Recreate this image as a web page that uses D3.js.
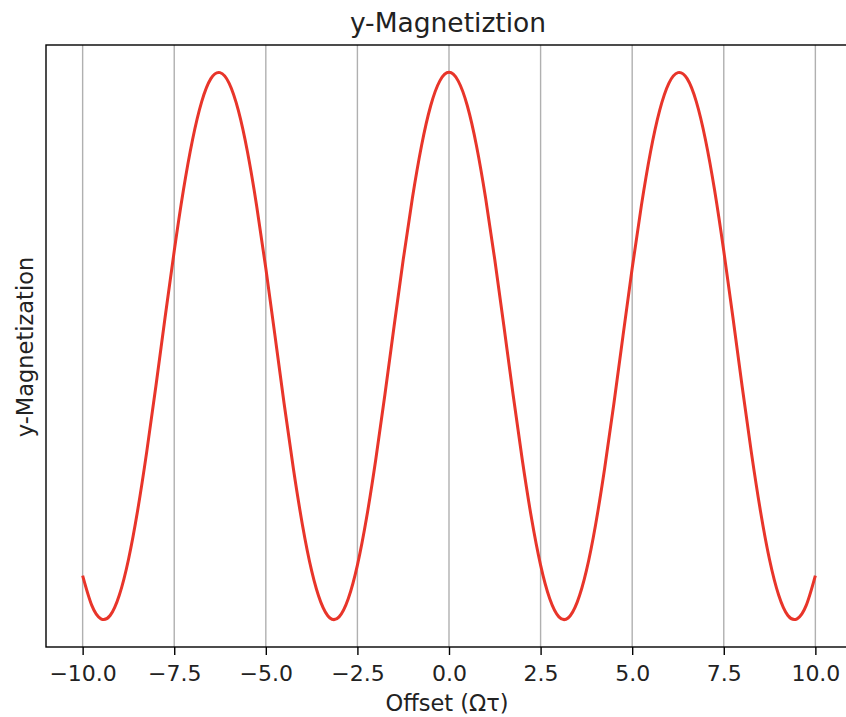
<!DOCTYPE html>
<html>
<head>
<meta charset="utf-8">
<script src="https://cdn.jsdelivr.net/npm/d3@7"></script>
<style>
  body { margin: 0; background: #fff; }
  svg { display: block; font-family: "DejaVu Sans", sans-serif; }
</style>
</head>
<body>
<script>
// offsets from -10 to 10 in steps of 0.25
var offsets = d3.range(-40, 41).map(function(i){ return i / 4; });
// y-magnetization
var magY = [
  -0.839, -0.948, -0.997, -0.985, -0.911, -0.781, -0.602, -0.386, -0.146, 0.104,
   0.347,  0.569,  0.754,  0.893,  0.977,  0.999,  0.960,  0.861,  0.709, 0.512,
   0.284,  0.038, -0.211, -0.446, -0.654, -0.821, -0.936, -0.994, -0.990, -0.924,
  -0.801, -0.628, -0.416, -0.178,  0.071,  0.315,  0.540,  0.732,  0.878, 0.969,
   1.000,
   0.969,  0.878,  0.732,  0.540,  0.315,  0.071, -0.178, -0.416, -0.628, -0.801,
  -0.924, -0.990, -0.994, -0.936, -0.821, -0.654, -0.446, -0.211,  0.038, 0.284,
   0.512,  0.709,  0.861,  0.960,  0.999,  0.977,  0.893,  0.754,  0.569, 0.347,
   0.104, -0.146, -0.386, -0.602, -0.781, -0.911, -0.985, -0.997, -0.948, -0.839
];
var xTicks = [-10, -7.5, -5, -2.5, 0, 2.5, 5, 7.5, 10];

var W = 846, H = 717;
var margin = {top: 45, left: 46, bottom: 70, right: -6};
var width = W - margin.left - margin.right,
    height = H - margin.top - margin.bottom;

var x = d3.scaleLinear().domain([-11, 11]).range([0, width]);
var y = d3.scaleLinear().domain([-1.1, 1.1]).range([height, 0]);

var svg = d3.select("body").append("svg")
  .attr("width", W).attr("height", H);

var g = svg.append("g")
  .attr("transform", "translate(" + margin.left + "," + margin.top + ")");

// grid
g.selectAll(".grid").data(xTicks).enter().append("line")
  .attr("class", "grid")
  .attr("x1", function(d){ return x(d); })
  .attr("x2", function(d){ return x(d); })
  .attr("y1", 0).attr("y2", height)
  .attr("stroke", "#b0b0b0").attr("stroke-width", 1.4);

// curve
var line = d3.line()
  .x(function(d, i){ return x(offsets[i]); })
  .y(function(d){ return y(d); })
  .curve(d3.curveNatural);

g.append("path")
  .datum(magY)
  .attr("d", line)
  .attr("fill", "none")
  .attr("stroke", "#e8352a")
  .attr("stroke-width", 3);

// x axis
var xAxis = d3.axisBottom(x)
  .tickValues(xTicks)
  .tickSize(8)
  .tickPadding(10)
  .tickFormat(function(d){ return d3.format(".1f")(d).replace("-", "\u2212"); });

var ax = g.append("g")
  .attr("transform", "translate(0," + height + ")")
  .call(xAxis);
ax.select(".domain").remove();
ax.selectAll(".tick line").attr("stroke", "#000").attr("stroke-width", 1.4);
ax.selectAll(".tick text")
  .attr("font-size", 22)
  .attr("fill", "#222")
  .attr("font-family", "DejaVu Sans");

// frame
g.append("rect")
  .attr("x", 0).attr("y", 0)
  .attr("width", width).attr("height", height)
  .attr("fill", "none")
  .attr("stroke", "#000").attr("stroke-width", 1.4);

// labels
svg.append("text")
  .attr("x", margin.left + width / 2 - 1).attr("y", 32)
  .attr("text-anchor", "middle")
  .attr("font-size", 26.5)
  .attr("fill", "#222")
  .text("y-Magnetiztion");

svg.append("text")
  .attr("x", margin.left + width / 2 - 2).attr("y", 711)
  .attr("text-anchor", "middle")
  .attr("font-size", 22.5)
  .attr("fill", "#222")
  .text("Offset (\u03a9\u03c4)");

svg.append("text")
  .attr("transform", "translate(33," + (margin.top + height / 2 + 1) + ") rotate(-90)")
  .attr("text-anchor", "middle")
  .attr("font-size", 22.5)
  .attr("fill", "#222")
  .text("y-Magnetization");
</script>
</body>
</html>
